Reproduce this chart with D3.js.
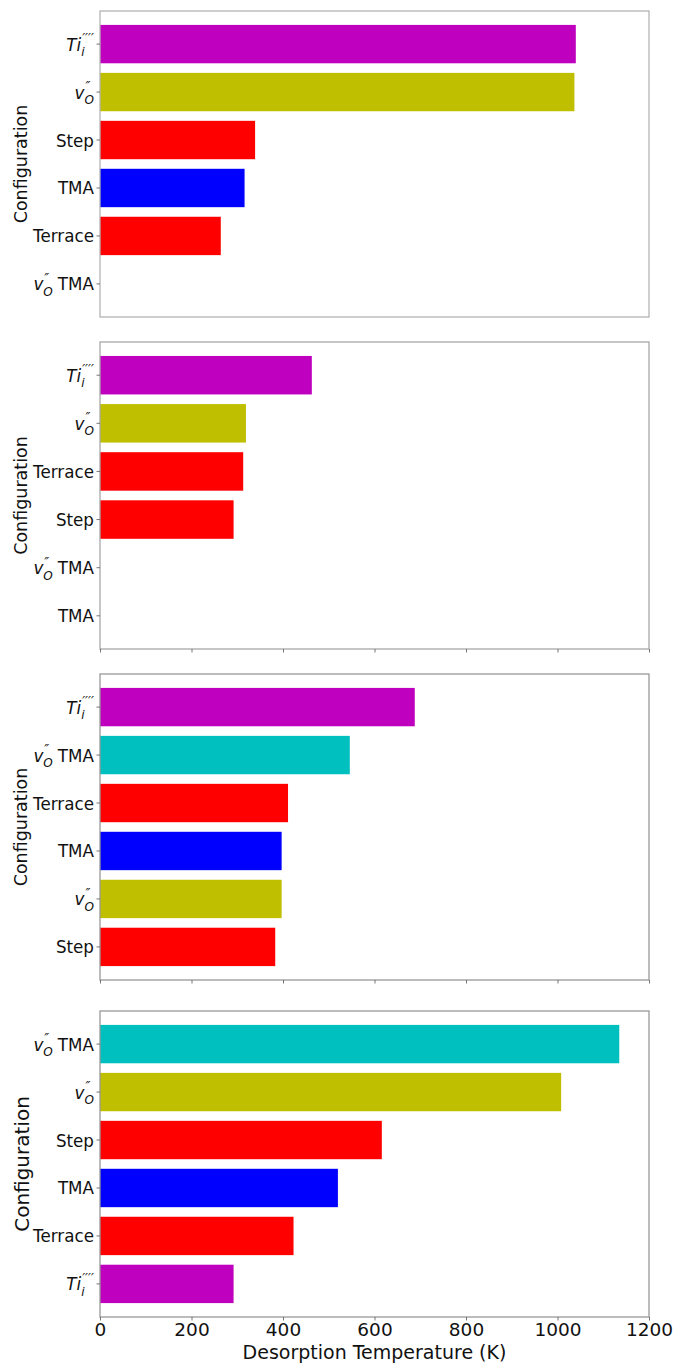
<!DOCTYPE html>
<html>
<head>
<meta charset="utf-8">
<script src="https://cdn.jsdelivr.net/npm/d3@7"></script>
<style>
  html, body { margin: 0; padding: 0; background: #fff; }
  svg { display: block; }
  text { font-family: "DejaVu Sans", sans-serif; fill: #111; }
</style>
</head>
<body>
<svg id="chart" width="677" height="1363"></svg>
<script>
// Desorption temperatures (K) per configuration, one set per panel, top to bottom
const panelALabels = ["Ti", "vO", "Step", "TMA", "Terrace", "vOTMA"];
const panelAValues = [1040, 1037, 339, 316, 264, 0];

const panelBLabels = ["Ti", "vO", "Terrace", "Step", "vOTMA", "TMA"];
const panelBValues = [463, 319, 313, 292, 0, 0];

const panelCLabels = ["Ti", "vOTMA", "Terrace", "TMA", "vO", "Step"];
const panelCValues = [688, 546, 411, 397, 397, 383];

const panelDLabels = ["vOTMA", "vO", "Step", "TMA", "Terrace", "Ti"];
const panelDValues = [1135, 1008, 616, 520, 423, 292];

const xTicks = [0, 200, 400, 600, 800, 1000, 1200];
const xDomain = [0, 1200];

const configColors = {
  Ti: "#bf00bf",
  vO: "#bfbf00",
  vOTMA: "#00bfbf",
  Step: "#ff0000",
  Terrace: "#ff0000",
  TMA: "#0000ff"
};

const panels = [
  { labels: panelALabels, values: panelAValues, top: 11, bottom: 317, xTickMarks: false, xTickLabels: false, frame: "#b4b4b4", ylabelSize: 17.5, ylabelX: 21 },
  { labels: panelBLabels, values: panelBValues, top: 342, bottom: 649, xTickMarks: true, xTickLabels: false, frame: "#a8a8a8", ylabelSize: 17.5, ylabelX: 21 },
  { labels: panelCLabels, values: panelCValues, top: 674, bottom: 980, xTickMarks: true, xTickLabels: false, frame: "#999", ylabelSize: 17.5, ylabelX: 21 },
  { labels: panelDLabels, values: panelDValues, top: 1011, bottom: 1317, xTickMarks: true, xTickLabels: true, frame: "#999", ylabelSize: 20, ylabelX: 22 }
];

const plotLeft = 100, plotRight = 649;
const labelSize = 18, squeeze = 0.93;
const svg = d3.select("#chart");

const x = d3.scaleLinear().domain(xDomain).range([plotLeft, plotRight]);

// Category label with italic math parts (sub/superscripts), right-aligned at (rx, cy)
function drawCategoryLabel(parent, key, rx, cy) {
  const g = parent.append("g");
  const inner = g.append("g");
  const base = labelSize * 0.36; // baseline offset from the tick centre
  let cursor = 0;

  function put(str, opts) {
    const t = inner.append("text")
      .attr("x", cursor + (opts.dx || 0))
      .attr("y", base + (opts.dy || 0))
      .attr("font-size", opts.size || labelSize)
      .attr("font-style", opts.italic ? "italic" : "normal")
      .text(str);
    return t.node().getComputedTextLength() + (opts.dx || 0);
  }

  function mathScript(mainStr, subStr, supStr) {
    const w = put(mainStr, { italic: true });
    cursor += w;
    const ws = put(subStr, { italic: true, size: labelSize * 0.72, dy: labelSize * 0.3 });
    const wp = put(supStr, { italic: true, size: labelSize * 0.78, dy: -labelSize * 0.42, dx: labelSize * 0.06 });
    cursor += Math.max(ws, wp);
  }

  if (key === "Ti") {
    mathScript("Ti", "i", "′′′′");
  } else if (key === "vO") {
    mathScript("v", "O", "″");
  } else if (key === "vOTMA") {
    mathScript("v", "O", "″");
    cursor += labelSize * 0.3;
    cursor += put("TMA", {});
  } else {
    cursor += put(key, {});
  }
  inner.attr("transform", `translate(${-cursor},0)`);
  g.attr("transform", `translate(${rx},${cy}) scale(${squeeze},1)`);
}

panels.forEach(p => {
  const g = svg.append("g");
  const y = d3.scaleBand()
    .domain(p.labels)
    .range([p.top, p.bottom])
    .paddingInner(0.2)
    .paddingOuter(0.29);

  // bars
  g.selectAll("rect.bar")
    .data(p.labels.map((k, i) => ({ key: k, value: p.values[i] })))
    .join("rect")
    .attr("class", "bar")
    .attr("x", x(0))
    .attr("y", d => y(d.key))
    .attr("width", d => x(d.value) - x(0))
    .attr("height", y.bandwidth())
    .attr("fill", d => configColors[d.key]);

  // frame
  g.append("rect")
    .attr("x", plotLeft).attr("y", p.top)
    .attr("width", plotRight - plotLeft).attr("height", p.bottom - p.top)
    .attr("fill", "none").attr("stroke", p.frame).attr("stroke-width", 1.3);

  // y axis ticks and category labels
  const yAxis = d3.axisLeft(y).tickSize(3.5).tickFormat("");
  const ya = g.append("g").attr("transform", `translate(${plotLeft},0)`).call(yAxis);
  ya.select(".domain").remove();
  ya.selectAll("line").attr("stroke", "#555").attr("stroke-width", 0.8);

  p.labels.forEach(k => {
    drawCategoryLabel(g, k, plotLeft - 6, y(k) + y.bandwidth() / 2);
  });

  // x axis
  if (p.xTickMarks) {
    const xAxis = d3.axisBottom(x).tickValues(xTicks).tickSize(3.5)
      .tickPadding(2.5)
      .tickFormat(p.xTickLabels ? d3.format("d") : "");
    const xa = g.append("g").attr("transform", `translate(0,${p.bottom})`).call(xAxis);
    xa.select(".domain").remove();
    xa.selectAll("line").attr("stroke", "#555").attr("stroke-width", 0.8);
    xa.selectAll("text")
      .attr("font-size", 18.5)
      .attr("font-family", "DejaVu Sans, sans-serif")
      .attr("fill", "#111");
  }

  // y axis title
  const cy = (p.top + p.bottom) / 2;
  g.append("text")
    .attr("transform", `translate(${p.ylabelX},${cy}) rotate(-90)`)
    .attr("text-anchor", "middle")
    .attr("dy", "0.35em")
    .attr("font-size", p.ylabelSize)
    .text("Configuration");
});

// x axis title
svg.append("text")
  .attr("x", (plotLeft + plotRight) / 2)
  .attr("y", 1358.5)
  .attr("text-anchor", "middle")
  .attr("font-size", 19)
  .text("Desorption Temperature (K)");
</script>
</body>
</html>
